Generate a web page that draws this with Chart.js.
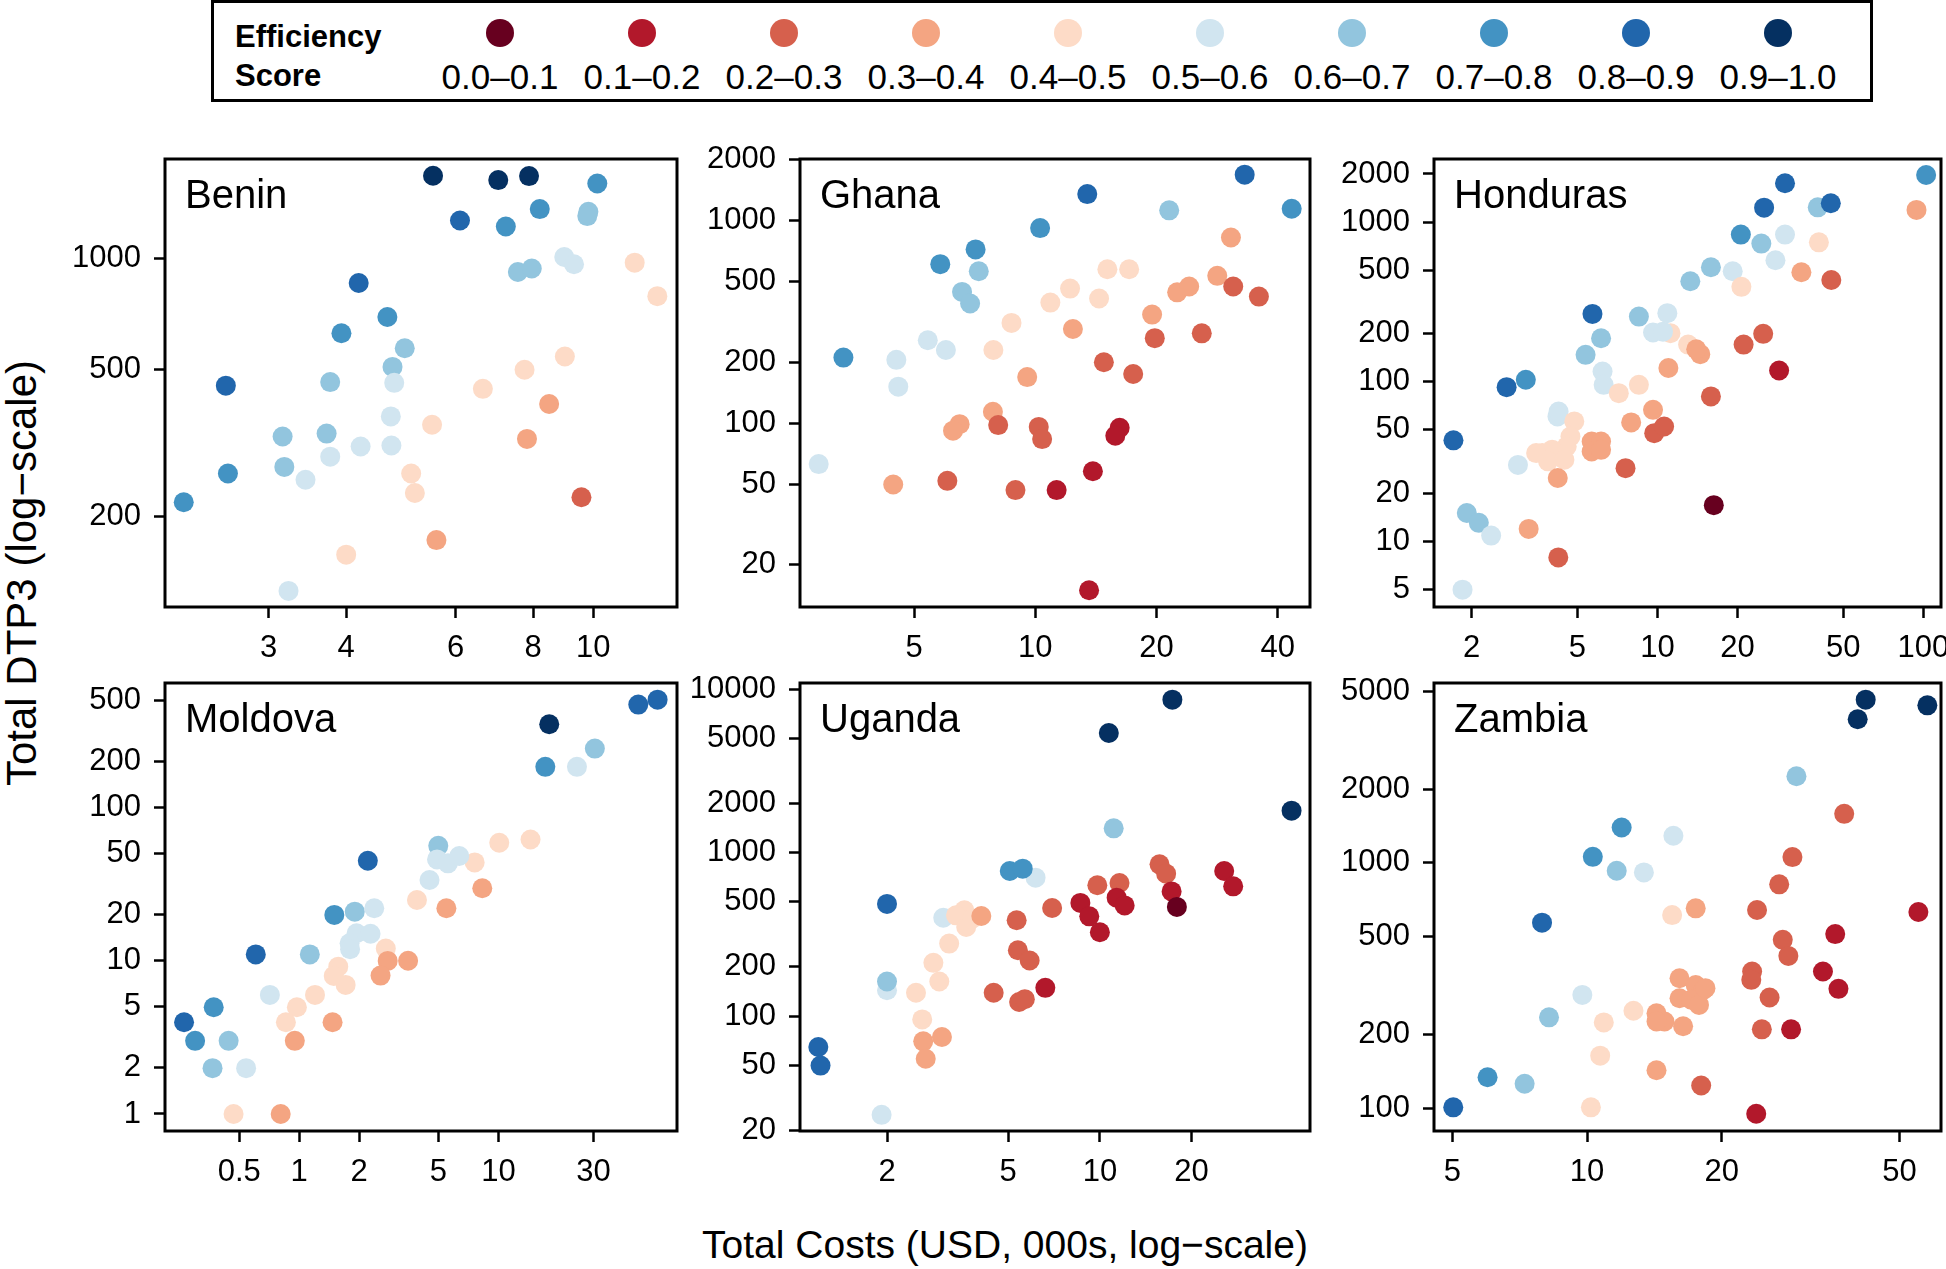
<!DOCTYPE html>
<html>
<head>
<meta charset="utf-8">
<script src="https://cdn.jsdelivr.net/npm/chart.js@4.4.0/dist/chart.umd.min.js"></script>
<style>
  body { margin: 0; width: 1946px; height: 1269px; overflow: hidden; background: #fff; position: relative;
         font-family: 'Liberation Sans', Arial, sans-serif; color: #000; }
  .panel { position: absolute; }
  #legend { position: absolute; left: 211px; top: 0; width: 1662px; height: 102px; box-sizing: border-box; border: 3px solid #000; }
  .legTitle { position: absolute; left: 235px; font-weight: bold; font-size: 31px; line-height: 1; }
  .legDot { position: absolute; width: 28px; height: 28px; border-radius: 50%; }
  .legLabel { position: absolute; width: 140px; text-align: center; font-size: 35px; line-height: 1; }
  #xtitle { position: absolute; left: 655px; width: 700px; top: 1222px; text-align: center; font-size: 39px; line-height: 1.2; }
  #ytitle { position: absolute; left: 22px; top: 573px; width: 600px; text-align: center; font-size: 42px; line-height: 1.2;
            transform: translate(-50%, -50%) rotate(-90deg); }
</style>
</head>
<body>
<div id="legend"></div>
<div id="xtitle">Total Costs (USD, 000s, log−scale)</div>
<div id="ytitle">Total DTP3 (log−scale)</div>
<script>
// efficiency bins (RdBu)
const binLabels = ['0.0–0.1', '0.1–0.2', '0.2–0.3', '0.3–0.4', '0.4–0.5', '0.5–0.6', '0.6–0.7', '0.7–0.8', '0.8–0.9', '0.9–1.0'];
const binColors = ['#67001f', '#b2182b', '#d6604d', '#f4a582', '#fddbc7', '#d1e5f0', '#92c5de', '#4393c3', '#2166ac', '#053061'];

// Benin
const beninCost = [5.52, 7.03, 7.88, 10.15, 6.10, 8.20, 7.23, 9.82, 9.78, 8.98, 9.31, 7.56, 7.96, 11.66, 12.68, 4.19, 4.66, 3.93, 4.97, 4.75, 4.78, 3.77, 2.56, 4.72, 3.72, 3.16, 4.22, 4.73, 3.77, 3.18, 2.58, 3.44, 2.19, 5.50, 6.64, 7.75, 9.0, 8.49, 7.82, 5.09, 5.16, 9.57, 5.59, 4.0, 3.23];
const beninDtp3 = [1676, 1631, 1672, 1597, 1268, 1361, 1221, 1338, 1303, 1010, 965, 920, 940, 975, 791, 859, 695, 628, 572, 509, 461, 463, 453, 374, 336, 330, 310, 312, 291, 273, 262, 252, 219, 355, 444, 500, 543, 404, 325, 262, 232, 226, 173, 158, 126];
const beninEff = [0.95, 0.95, 0.95, 0.75, 0.85, 0.75, 0.75, 0.65, 0.65, 0.55, 0.55, 0.65, 0.65, 0.45, 0.45, 0.85, 0.75, 0.75, 0.65, 0.65, 0.55, 0.65, 0.85, 0.55, 0.65, 0.65, 0.55, 0.55, 0.55, 0.65, 0.75, 0.55, 0.75, 0.45, 0.45, 0.45, 0.45, 0.35, 0.35, 0.45, 0.45, 0.25, 0.35, 0.45, 0.55];
const beninXTicks = [3, 4, 6, 8, 10];
const beninYTicks = [200, 500, 1000];

// Ghana
const ghanaCost = [3.34, 2.90, 4.52, 4.57, 5.41, 6.0, 5.81, 7.11, 7.24, 6.58, 6.89, 10.28, 13.46, 21.5, 33.1, 43.3, 30.6, 15.1, 17.1, 12.2, 10.9, 14.4, 8.73, 7.87, 12.4, 19.5, 22.5, 24.1, 28.3, 31.0, 35.9, 25.9, 19.8, 14.8, 17.5, 9.55, 7.85, 6.49, 6.25, 8.09, 10.2, 10.4, 16.2, 15.8, 13.9, 11.3, 8.93, 6.05, 4.44, 13.6];
const ghanaDtp3 = [211, 62.9, 205.6, 151.6, 257, 230, 610, 721, 563, 445, 390, 919, 1352, 1124, 1686, 1145, 826, 576, 576, 462, 394, 413, 313, 230, 292, 344, 443, 473, 534, 473, 422, 278, 263, 200, 175, 169, 114, 99, 92, 98, 96, 83.6, 95, 86.8, 58, 46.8, 46.8, 52, 49.9, 15.0];
const ghanaEff = [0.75, 0.55, 0.55, 0.55, 0.55, 0.55, 0.75, 0.75, 0.65, 0.65, 0.65, 0.75, 0.85, 0.65, 0.85, 0.75, 0.35, 0.45, 0.45, 0.45, 0.45, 0.45, 0.45, 0.45, 0.35, 0.35, 0.35, 0.35, 0.35, 0.25, 0.25, 0.25, 0.25, 0.25, 0.25, 0.35, 0.35, 0.35, 0.35, 0.25, 0.25, 0.25, 0.15, 0.15, 0.15, 0.15, 0.25, 0.25, 0.35, 0.15];
const ghanaXTicks = [5, 10, 20, 40];
const ghanaYTicks = [20, 50, 100, 200, 500, 1000, 2000];

// Honduras
const hondurasCost = [102.5, 94.3, 30.2, 25.2, 40.1, 44.9, 20.6, 24.6, 30.2, 27.8, 40.5, 34.8, 45.1, 15.9, 19.2, 20.7, 13.3, 5.70, 8.52, 10.9, 6.14, 5.37, 11.2, 9.63, 10.5, 13.05, 14.5, 14.0, 11.0, 25.0, 21.1, 28.7, 15.9, 16.3, 6.22, 6.28, 8.52, 7.16, 3.20, 2.71, 1.71, 9.63, 7.97, 9.73, 10.6, 7.59, 4.21, 4.25, 4.87, 4.71, 4.56, 3.69, 4.02, 3.88, 4.47, 3.50, 5.66, 6.14, 5.66, 6.14, 4.22, 2.99, 1.92, 2.13, 2.37, 3.28, 4.24, 1.85];
const hondurasDtp3 = [1972, 1191, 1749, 1231, 1237, 1311, 835, 733, 835, 577, 747, 485, 434, 521, 492, 393, 426, 266, 256, 269, 187.5, 147.5, 201.6, 203.5, 206, 171, 149, 160, 122, 199.7, 171, 117.7, 81, 16.9, 116, 95.7, 95.7, 84.9, 103, 92.6, 43.0, 66.8, 55.7, 47.7, 52.5, 28.8, 60.7, 65.2, 56.5, 45.5, 39.4, 35.8, 37.6, 31.8, 32.5, 35.8, 42.3, 42.3, 36.6, 37.5, 25.0, 30.2, 15.1, 13.1, 10.9, 12.0, 7.96, 5.0];
const hondurasEff = [0.75, 0.35, 0.85, 0.85, 0.65, 0.85, 0.75, 0.65, 0.55, 0.55, 0.45, 0.35, 0.25, 0.65, 0.55, 0.45, 0.65, 0.85, 0.65, 0.55, 0.65, 0.65, 0.45, 0.55, 0.55, 0.45, 0.35, 0.35, 0.35, 0.25, 0.25, 0.15, 0.25, 0.05, 0.55, 0.55, 0.45, 0.45, 0.75, 0.85, 0.85, 0.35, 0.35, 0.25, 0.25, 0.25, 0.55, 0.55, 0.45, 0.45, 0.45, 0.45, 0.45, 0.45, 0.45, 0.45, 0.35, 0.35, 0.35, 0.35, 0.35, 0.55, 0.65, 0.65, 0.55, 0.35, 0.25, 0.55];
const hondurasXTicks = [2, 5, 10, 20, 50, 100];
const hondurasYTicks = [5, 10, 20, 50, 100, 200, 500, 1000, 2000];

// Moldova
const moldovaCost = [63.0, 50.4, 18.0, 30.5, 17.2, 24.8, 14.5, 10.1, 7.60, 8.30, 4.99, 4.92, 5.58, 6.36, 4.51, 3.90, 5.48, 2.21, 1.50, 1.90, 2.38, 1.94, 2.28, 1.79, 1.80, 2.72, 2.78, 3.52, 2.56, 1.13, 0.605, 1.57, 1.49, 1.71, 1.20, 0.973, 0.857, 1.47, 0.95, 0.712, 0.372, 0.264, 0.30, 0.442, 0.367, 0.541, 0.468, 0.807];
const moldovaDtp3 = [505, 469, 349, 242, 184, 184, 61.8, 58.8, 43.8, 29.7, 56.2, 45.8, 43.2, 48.2, 33.6, 24.9, 22.0, 44.9, 19.9, 20.9, 22.0, 15.1, 15.0, 13.0, 11.9, 12.0, 9.97, 10.0, 8.0, 11.0, 11.0, 9.15, 7.96, 6.95, 5.98, 4.97, 3.97, 3.97, 3.0, 5.98, 4.97, 3.97, 3.0, 3.0, 1.99, 1.99, 1.0, 1.0];
const moldovaEff = [0.85, 0.85, 0.95, 0.65, 0.75, 0.55, 0.45, 0.45, 0.45, 0.35, 0.65, 0.55, 0.55, 0.55, 0.55, 0.45, 0.35, 0.85, 0.75, 0.65, 0.55, 0.55, 0.55, 0.55, 0.55, 0.45, 0.35, 0.35, 0.35, 0.65, 0.85, 0.45, 0.45, 0.45, 0.45, 0.45, 0.45, 0.35, 0.35, 0.55, 0.75, 0.85, 0.75, 0.65, 0.65, 0.55, 0.45, 0.35];
const moldovaXTicks = [0.5, 1, 2, 5, 10, 30];
const moldovaYTicks = [1, 2, 5, 10, 20, 50, 100, 200, 500];

// Uganda
const ugandaCost = [17.3, 10.7, 42.6, 11.1, 6.15, 5.06, 5.58, 2.0, 3.06, 3.59, 3.37, 3.64, 3.81, 4.08, 3.20, 2.84, 2.97, 2.49, 2.61, 2.63, 3.03, 2.68, 2.0, 2.0, 1.19, 1.21, 1.92, 5.33, 6.97, 5.38, 5.88, 4.48, 5.43, 5.67, 6.62, 8.63, 9.23, 10.0, 9.81, 11.6, 11.35, 12.06, 15.7, 16.5, 17.2, 17.9, 25.6, 27.4];
const ugandaDtp3 = [8646, 5404, 1809, 1410, 704, 773, 799, 486, 400, 444, 414, 351, 395, 410, 278, 212, 163, 139, 95.5, 70.1, 74.5, 54.9, 144, 163, 64.7, 49.8, 24.9, 386, 459, 253, 219, 139, 122, 127, 149, 493, 408, 326, 632, 653, 531, 476, 849, 745, 580, 466, 773, 623];
const ugandaEff = [0.95, 0.95, 0.95, 0.65, 0.55, 0.75, 0.75, 0.85, 0.55, 0.45, 0.45, 0.45, 0.45, 0.35, 0.45, 0.45, 0.45, 0.45, 0.45, 0.35, 0.35, 0.35, 0.55, 0.65, 0.85, 0.85, 0.55, 0.25, 0.25, 0.25, 0.25, 0.25, 0.25, 0.25, 0.15, 0.15, 0.15, 0.15, 0.25, 0.25, 0.15, 0.15, 0.25, 0.25, 0.15, 0.05, 0.15, 0.15];
const ugandaXTicks = [2, 5, 10, 20];
const ugandaYTicks = [20, 50, 100, 200, 500, 1000, 2000, 5000, 10000];

// Zambia
const zambiaCost = [42.0, 40.3, 57.7, 29.4, 37.6, 28.8, 26.9, 24.0, 27.4, 28.2, 23.4, 23.3, 25.6, 24.6, 28.6, 23.9, 18.0, 55.1, 35.9, 33.7, 36.5, 11.95, 10.3, 11.65, 13.4, 15.6, 7.93, 15.5, 17.5, 9.76, 8.22, 10.9, 12.7, 10.7, 10.2, 14.3, 14.3, 14.9, 14.3, 16.4, 16.1, 17.5, 18.2, 16.1, 17.1, 17.8, 18.4, 5.02, 5.99, 7.25];
const zambiaDtp3 = [4624, 3847, 4386, 2255, 1585, 1056, 818, 643, 486, 418, 361, 334, 283, 210, 210, 95.1, 124, 631, 513, 361, 307, 1394, 1059, 929, 915, 1290, 571, 613, 653, 290, 235, 224, 250, 164, 101, 143, 244, 226, 226, 216, 339, 318, 304, 281, 277, 264, 309, 101, 134, 126];
const zambiaEff = [0.95, 0.95, 0.95, 0.65, 0.25, 0.25, 0.25, 0.25, 0.25, 0.25, 0.25, 0.25, 0.25, 0.25, 0.15, 0.15, 0.25, 0.15, 0.15, 0.15, 0.15, 0.75, 0.75, 0.65, 0.55, 0.55, 0.85, 0.45, 0.35, 0.55, 0.65, 0.45, 0.45, 0.45, 0.45, 0.35, 0.35, 0.35, 0.35, 0.35, 0.35, 0.35, 0.35, 0.35, 0.35, 0.35, 0.35, 0.85, 0.75, 0.65];
const zambiaXTicks = [5, 10, 20, 50];
const zambiaYTicks = [100, 200, 500, 1000, 2000, 5000];

const COL_LEFT = [165, 800, 1434];
const COL_RIGHT = [677, 1310, 1941];
const ROW_TOP = [159, 683];
const ROW_BOTTOM = [607, 1131];
const Y_AXIS_W = 120, X_AXIS_H = 70, PAD_TOP = 30, PAD_RIGHT = 30;

const panels = [
  { name: 'Benin', cost: beninCost, dtp3: beninDtp3, eff: beninEff, xTicks: beninXTicks, yTicks: beninYTicks, xRange: [2.043, 13.64], yRange: [114, 1860], col: 0, row: 0 },
  { name: 'Ghana', cost: ghanaCost, dtp3: ghanaDtp3, eff: ghanaEff, xTicks: ghanaXTicks, yTicks: ghanaYTicks, xRange: [2.606, 48.08], yRange: [12.4, 2015], col: 1, row: 0 },
  { name: 'Honduras', cost: hondurasCost, dtp3: hondurasDtp3, eff: hondurasEff, xTicks: hondurasXTicks, yTicks: hondurasYTicks, xRange: [1.445, 116.6], yRange: [3.894, 2482], col: 2, row: 0 },
  { name: 'Moldova', cost: moldovaCost, dtp3: moldovaDtp3, eff: moldovaEff, xTicks: moldovaXTicks, yTicks: moldovaYTicks, xRange: [0.2118, 78.85], yRange: [0.7745, 648.6], col: 0, row: 1 },
  { name: 'Uganda', cost: ugandaCost, dtp3: ugandaDtp3, eff: ugandaEff, xTicks: ugandaXTicks, yTicks: ugandaYTicks, xRange: [1.036, 48.97], yRange: [19.82, 10933], col: 1, row: 1 },
  { name: 'Zambia', cost: zambiaCost, dtp3: zambiaDtp3, eff: zambiaEff, xTicks: zambiaXTicks, yTicks: zambiaYTicks, xRange: [4.546, 61.9], yRange: [80.9, 5407], col: 2, row: 1 },
];

Chart.defaults.font.family = "'Liberation Sans', Arial, sans-serif";
Chart.defaults.color = '#000';

const binColor = e => binColors[Math.min(9, Math.floor(e * 10))];

// box around the plot region + country name in the corner
const framePlugin = {
  id: 'frame',
  afterDatasetsDraw(chart, args, opts) {
    const { ctx, chartArea: a } = chart;
    ctx.save();
    ctx.lineWidth = 3;
    ctx.strokeStyle = '#000';
    ctx.strokeRect(a.left, a.top, a.right - a.left, a.bottom - a.top);
    ctx.fillStyle = '#000';
    ctx.font = "40px 'Liberation Sans', Arial, sans-serif";
    ctx.textBaseline = 'alphabetic';
    ctx.fillText(opts.name, a.left + 20, a.top + 49);
    ctx.restore();
  }
};

function axisOpts(range, ticks, isX) {
  return {
    type: 'logarithmic',
    position: isX ? 'bottom' : 'left',
    min: range[0],
    max: range[1],
    bounds: 'data',
    afterBuildTicks: s => { s.ticks = ticks.map(v => ({ value: v })); },
    afterFit: s => {
      if (isX) s.height = X_AXIS_H; else s.width = Y_AXIS_W;
      s.paddingLeft = 0; s.paddingRight = 0; s.paddingTop = 0; s.paddingBottom = 0;
    },
    grid: { drawOnChartArea: false, drawTicks: true, tickLength: 11, tickWidth: 2.5, tickColor: '#000' },
    border: { display: false },
    ticks: {
      autoSkip: false, maxRotation: 0, minRotation: 0,
      padding: isX ? 12 : 13,
      color: '#000',
      font: { size: 31 },
      callback: v => String(v),
    },
  };
}

panels.forEach(p => {
  const boxW = COL_RIGHT[p.col] - COL_LEFT[p.col];
  const boxH = ROW_BOTTOM[p.row] - ROW_TOP[p.row];
  const div = document.createElement('div');
  div.className = 'panel';
  div.style.left = (COL_LEFT[p.col] - Y_AXIS_W) + 'px';
  div.style.top = (ROW_TOP[p.row] - PAD_TOP) + 'px';
  const w = Y_AXIS_W + boxW + PAD_RIGHT;
  const h = PAD_TOP + boxH + X_AXIS_H;
  const canvas = document.createElement('canvas');
  canvas.width = w; canvas.height = h;
  canvas.style.width = w + 'px'; canvas.style.height = h + 'px';
  div.appendChild(canvas);
  document.body.appendChild(div);

  new Chart(canvas.getContext('2d'), {
    type: 'scatter',
    data: {
      datasets: [{
        data: p.cost.map((c, i) => ({ x: c, y: p.dtp3[i] })),
        backgroundColor: p.eff.map(binColor),
        pointRadius: 10,
        pointBorderWidth: 0,
        borderWidth: 0,
        clip: false,
      }],
    },
    options: {
      responsive: false,
      animation: false,
      events: [],
      layout: { padding: { top: PAD_TOP, right: PAD_RIGHT, left: 0, bottom: 0 } },
      plugins: { legend: { display: false }, tooltip: { enabled: false }, frame: { name: p.name } },
      scales: {
        x: axisOpts(p.xRange, p.xTicks, true),
        y: axisOpts(p.yRange, p.yTicks, false),
      },
    },
    plugins: [framePlugin],
  });
});

// legend strip at the top
const legendBody = document.body;
[['Efficiency', 21], ['Score', 60]].forEach(([txt, top]) => {
  const d = document.createElement('div');
  d.className = 'legTitle';
  d.style.top = top + 'px';
  d.textContent = txt;
  legendBody.appendChild(d);
});
binLabels.forEach((lab, i) => {
  const cx = 500 + 142 * i;
  const dot = document.createElement('div');
  dot.className = 'legDot';
  dot.style.left = (cx - 14) + 'px';
  dot.style.top = (33 - 14) + 'px';
  dot.style.background = binColors[i];
  legendBody.appendChild(dot);
  const l = document.createElement('div');
  l.className = 'legLabel';
  l.style.left = (cx - 70) + 'px';
  l.style.top = (77 - 18) + 'px';
  l.textContent = lab;
  legendBody.appendChild(l);
});
</script>
</body>
</html>
